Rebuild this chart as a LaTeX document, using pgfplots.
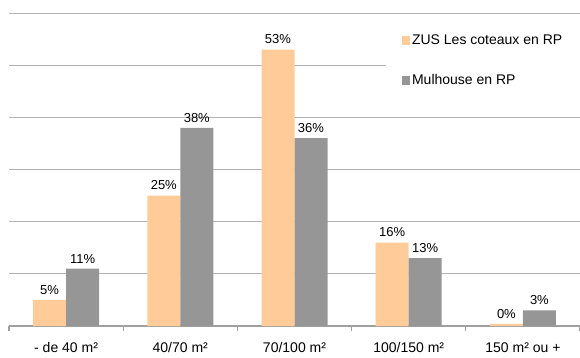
\documentclass[border=0pt]{standalone}
\usepackage{pgfplots}
\pgfplotsset{compat=1.18}
\usepackage{fontspec}
\setmainfont{Liberation Sans}
\definecolor{zus}{HTML}{FFCC99}
\definecolor{mul}{HTML}{969696}
\definecolor{gridc}{HTML}{B4B4B4}
\definecolor{axc}{HTML}{A0A0A0}
\begin{document}
\begin{tikzpicture}
\useasboundingbox (0pt,0pt) rectangle (580pt,357pt);
\begin{axis}[
  at={(9pt,31pt)}, anchor=south west,
  scale only axis, width=571pt, height=313pt,
  ybar, bar width=33pt,
  xmin=-0.5, xmax=4.5, ymin=0, ymax=60,
  axis x line*=bottom, axis y line*=left,
  y axis line style={draw=none},
  x axis line style={draw=axc, line width=1.5pt},
  ytick={10,20,30,40,50,60}, yticklabels={},
  ytick style={draw=none},
  ymajorgrids, grid style={draw=gridc, line width=0.9pt},
  xtick={0,1,2,3,4},
  xticklabels={- de 40 m², 40/70 m², 70/100 m², 100/150 m², 150 m² ou +},
  major x tick style={draw=none},
  minor xtick={-0.5,0.5,1.5,2.5,3.5,4.5},
  minor x tick style={draw=axc, line width=1.2pt},
  minor tick length=5pt, tick align=outside,
  xticklabel style={font=\fontsize{14pt}{16pt}\selectfont, yshift=-9pt},
  point meta=explicit symbolic,
  nodes near coords={\pgfplotspointmeta\%},
  every node near coord/.append style={font=\fontsize{13pt}{15pt}\selectfont, black, yshift=2pt},
  legend style={at={(0.660,0.978)}, anchor=north west, draw=none, fill=white,
    font=\fontsize{14pt}{16pt}\selectfont, row sep=24pt, column sep=0pt,
    inner xsep=16pt, inner ysep=13pt},
  legend cell align=left,
  legend image code/.code={\fill[#1] (0pt,-4.5pt) rectangle (8pt,4.5pt);},
]
\addplot[fill=zus, draw=none, bar shift=-16.5pt] coordinates {(0,5) [5] (1,25) [25] (2,53) [53] (3,16) [16] (4,0.4) [0]};
\addplot[fill=mul, draw=none, bar shift=16.5pt] coordinates {(0,11) [11] (1,38) [38] (2,36) [36] (3,13) [13] (4,3) [3]};
\legend{ZUS Les coteaux en RP, Mulhouse en RP}
\end{axis}
\end{tikzpicture}
\end{document}
